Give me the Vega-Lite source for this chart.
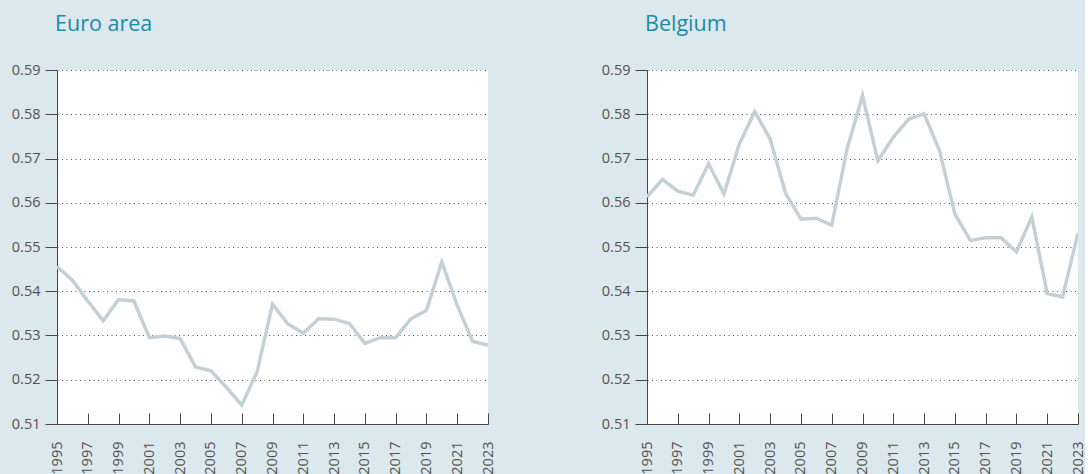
{
  "$schema": "https://vega.github.io/schema/vega-lite/v6.json",
  "background": "#dbe8ee",
  "padding": {"left": 11, "top": 13, "right": 0, "bottom": 0},
  "spacing": 106,
  "datasets": {
    "ea": [
      {"year": 1995, "value": 0.5456}, {"year": 1996, "value": 0.5425}, {"year": 1997, "value": 0.5378},
      {"year": 1998, "value": 0.5333}, {"year": 1999, "value": 0.5381}, {"year": 2000, "value": 0.5378},
      {"year": 2001, "value": 0.5295}, {"year": 2002, "value": 0.5299}, {"year": 2003, "value": 0.5293},
      {"year": 2004, "value": 0.5229}, {"year": 2005, "value": 0.5220}, {"year": 2006, "value": 0.5183},
      {"year": 2007, "value": 0.5143}, {"year": 2008, "value": 0.5218}, {"year": 2009, "value": 0.5371},
      {"year": 2010, "value": 0.5326}, {"year": 2011, "value": 0.5305}, {"year": 2012, "value": 0.5338},
      {"year": 2013, "value": 0.5337}, {"year": 2014, "value": 0.5327}, {"year": 2015, "value": 0.5282},
      {"year": 2016, "value": 0.5295}, {"year": 2017, "value": 0.5295}, {"year": 2018, "value": 0.5338},
      {"year": 2019, "value": 0.5357}, {"year": 2020, "value": 0.5466}, {"year": 2021, "value": 0.5368},
      {"year": 2022, "value": 0.5287}, {"year": 2023, "value": 0.5278}
    ],
    "be": [
      {"year": 1995, "value": 0.5613}, {"year": 1996, "value": 0.5653}, {"year": 1997, "value": 0.5626},
      {"year": 1998, "value": 0.5617}, {"year": 1999, "value": 0.5688}, {"year": 2000, "value": 0.5620},
      {"year": 2001, "value": 0.5733}, {"year": 2002, "value": 0.5806}, {"year": 2003, "value": 0.5744},
      {"year": 2004, "value": 0.5622}, {"year": 2005, "value": 0.5563}, {"year": 2006, "value": 0.5565},
      {"year": 2007, "value": 0.5549}, {"year": 2008, "value": 0.5722}, {"year": 2009, "value": 0.5842},
      {"year": 2010, "value": 0.5695}, {"year": 2011, "value": 0.5748}, {"year": 2012, "value": 0.5789},
      {"year": 2013, "value": 0.5801}, {"year": 2014, "value": 0.5718}, {"year": 2015, "value": 0.5575},
      {"year": 2016, "value": 0.5515}, {"year": 2017, "value": 0.5521}, {"year": 2018, "value": 0.5521},
      {"year": 2019, "value": 0.5489}, {"year": 2020, "value": 0.5568}, {"year": 2021, "value": 0.5395},
      {"year": 2022, "value": 0.5387}, {"year": 2023, "value": 0.5532}
    ]
  },
  "hconcat": [
    {
      "title": {"text": "Euro area"},
      "width": 431,
      "height": 354,
      "data": {"name": "ea"},
      "mark": {"type": "line", "color": "#c3d0d6", "strokeWidth": 3.5, "clip": true},
      "encoding": {
        "x": {"field": "year", "type": "quantitative", "scale": {"domain": [1995, 2023], "nice": false, "zero": false}, "axis": {"values": [1995,1997,1999,2001,2003,2005,2007,2009,2011,2013,2015,2017,2019,2021,2023]}},
        "y": {"field": "value", "type": "quantitative", "scale": {"domain": [0.51, 0.59], "nice": false, "zero": false}}
      }
    },
    {
      "title": {"text": "Belgium"},
      "width": 431,
      "height": 354,
      "data": {"name": "be"},
      "mark": {"type": "line", "color": "#c3d0d6", "strokeWidth": 3.5, "clip": true},
      "encoding": {
        "x": {"field": "year", "type": "quantitative", "scale": {"domain": [1995, 2023], "nice": false, "zero": false}, "axis": {"values": [1995,1997,1999,2001,2003,2005,2007,2009,2011,2013,2015,2017,2019,2021,2023]}},
        "y": {"field": "value", "type": "quantitative", "scale": {"domain": [0.51, 0.59], "nice": false, "zero": false}}
      }
    }
  ],
  "config": {
    "font": "Open Sans",
    "view": {"stroke": null, "fill": "white"},
    "title": {"anchor": "start", "frame": "group", "fontSize": 21.5, "fontWeight": "normal", "color": "#1b8aa9", "offset": 27, "font": "Open Sans", "dx": -2},
    "axis": {"title": null, "domainColor": "#4a4540", "tickColor": "#4a4540", "labelColor": "#55524d", "labelFontSize": 14.5, "labelFont": "Open Sans", "domainWidth": 1, "tickWidth": 1},
    "axisY": {"grid": true, "gridColor": "#555555", "gridDash": [1, 3.5], "gridWidth": 1, "tickSize": 12, "labelPadding": 5, "format": ".2f", "values": [0.51,0.52,0.53,0.54,0.55,0.56,0.57,0.58,0.59]},
    "axisX": {"grid": false, "tickSize": -11, "labelPadding": 28, "labelAngle": -90, "format": "d", "labelFlush": false, "labelOverlap": false}
  }
}
